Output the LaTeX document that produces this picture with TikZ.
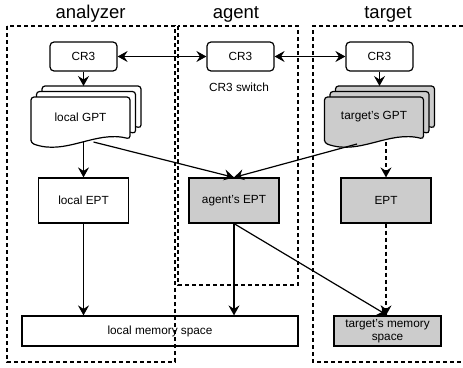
\documentclass[tikz,border=0pt]{standalone}
\usepackage{fontspec}
\setmainfont{Liberation Sans}
\usetikzlibrary{arrows.meta}

\definecolor{shade}{gray}{0.8}

\tikzset{
  tip/.tip={Stealth[length=10pt, width=11pt, inset=3.5pt]},
  lbl/.style={font=\fontsize{11.8}{13.5}\selectfont},
  ttl/.style={font=\fontsize{18.5}{21}\selectfont, anchor=base},
  box/.style={lbl, draw, line width=1.2pt, inner sep=2pt},
  cr/.style={box, rounded corners=4pt, minimum width=67pt, minimum height=29pt},
  pt/.style={box, minimum width=90pt, minimum height=45pt},
  mem/.style={box, minimum height=30pt},
  region/.style={line width=1.1pt, dash pattern=on 4pt off 3pt},
  arr/.style={line width=1.2pt, -tip},
  darr/.style={arr, dash pattern=on 4pt off 3pt},
  pics/gptstack/.style 2 args={code={
    \foreach \d in {11,5.5,0}
      \draw[line width=1.2pt, rounded corners=3pt, fill=#1, shift={(\d,-\d)}]
        (-49.5,25) -- (-49.5,-21) -- (49.5,-21) -- (49.5,21)
        .. controls (15,12) and (-15,38) .. (-49.5,25) -- cycle;
    \node[lbl] (-doc) at (0,-1) {#2};
    \coordinate (-top) at (11,-32);
    \coordinate (-se) at (13,24);
    \coordinate (-sw) at (-17,26);
  }}
}

\begin{document}
\begin{tikzpicture}[x=1pt, y=-1pt]
  \useasboundingbox (0,0) rectangle (463,367);

  % regions
  \draw[region] (7,26) rectangle (175,362);
  \draw[region] (178,26) rectangle (298,285);
  \draw[region] (470,26) -- (313,26) -- (313,362) -- (470,362);
  \node[ttl] at (90.5,18.5) {analyzer};
  \node[ttl] at (236,18.5) {agent};
  \node[ttl] at (388,18.5) {target};

  \node[cr] (lcr3) at (83.5,56.5) {CR3};
  \node[cr] (acr3) at (240.5,56.5) {CR3};
  \node[cr] (tcr3) at (379.5,56.5) {CR3};
  \node[lbl, anchor=base] (sw) at (239,91) {CR3 switch};

  \pic (lgpt) at (80.5,118) {gptstack={white}{local GPT}};
  \pic (tgpt) at (374,118) {gptstack={shade}{target's GPT}};

  \node[pt] (lept) at (83.5,200.5) {local EPT};
  \node[pt, fill=shade] (aept) at (234,200.5) {agent's EPT};
  \node[pt, fill=shade] (tept) at (386,200.5) {EPT};

  \node[mem, minimum width=276pt] (lmem) at (160,331) {local memory space};
  \node[mem, minimum width=107pt, fill=shade, align=center,
    font=\fontsize{11.8}{12.5}\selectfont] (tmem) at (387.5,331)
    {target's memory\\space};

  \begin{scope}[line width=1.2pt]
    \draw[tip-tip] (lcr3) -- (acr3);
    \draw[tip-tip] (acr3) -- (tcr3);
    \draw[arr] (lcr3) -- (lcr3 |- lgpt-top);
    \draw[arr] (tcr3) -- (tcr3 |- tgpt-top);
    \draw[arr] (lept |- lgpt-se) -- (lept);
    \draw[arr] (lgpt-se) -- (aept.north);
    \draw[arr] (tgpt-sw) -- (aept.north);
    \draw[darr] (tept |- tgpt-se) -- (tept);
    \draw[arr] (lept) -- (lept |- lmem.north);
    \draw[arr] (aept) -- (aept |- lmem.north);
    \draw[arr] (aept.south) -- (tmem.north);
    \draw[darr] (tept) -- (tept |- tmem.north);
  \end{scope}
\end{tikzpicture}
\end{document}
